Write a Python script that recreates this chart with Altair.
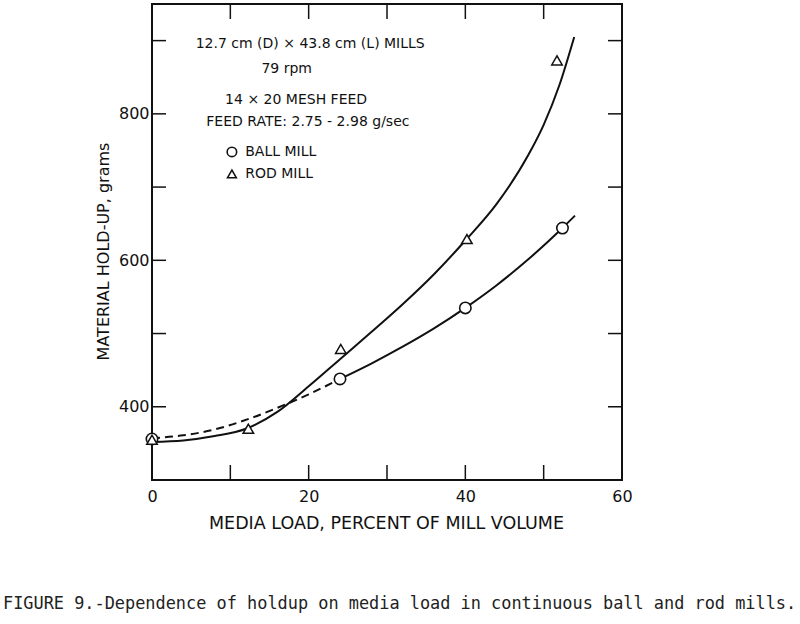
import altair as alt
import pandas as pd

# ---- data ----
ball_x = [0, 24, 40, 52.4]
ball_y = [356, 438, 535, 644]
rod_x = [0, 12.3, 24.1, 40.2, 51.7]
rod_y = [355, 370, 479, 629, 873]

# fitted curves as drawn in the figure
rod_curve_x = [0, 4, 8, 12, 16, 20, 24, 28, 32, 36, 40, 44, 48, 50, 52, 53.9]
rod_curve_y = [352, 354, 360, 370, 393, 428, 465, 502, 540, 581, 627, 677, 743, 785, 839, 905]
ball_solid_x = [24, 28, 32, 36, 40, 44, 48, 52, 54]
ball_solid_y = [438, 459, 482, 507, 535, 566, 601, 640, 661]
ball_dash_x = [0, 4, 8, 12.5, 17, 20, 24]
ball_dash_y = [357, 361, 369, 384, 403, 417, 438]

x_tick_labels = [0, 20, 40, 60]
y_tick_labels = [400, 600, 800]
x_minor = [10, 20, 30, 40, 50]
y_minor = [400, 500, 600, 700, 800, 900]

note_text = ["12.7 cm (D) × 43.8 cm (L) MILLS", "79 rpm", "14 × 20 MESH FEED",
             "FEED RATE: 2.75 - 2.98 g/sec"]
note_x = [20.2, 17.2, 18.4, 19.9]
note_y = [895, 861, 819, 789]
legend_text = ["BALL MILL", "ROD MILL"]
legend_sym_x = [10.2, 10.2]
legend_y = [748, 718]
legend_text_x = [11.9, 11.9]

caption = "FIGURE 9.-Dependence of holdup on media load in continuous ball and rod mills."

W, H = 470, 476
xs = alt.Scale(domain=[0, 60], nice=False, zero=False)
ys = alt.Scale(domain=[300, 950], nice=False, zero=False)

X = alt.X("x:Q", scale=xs,
          axis=alt.Axis(values=x_tick_labels, ticks=False, domain=False, grid=False,
                        labelFont="DejaVu Sans", labelFontSize=16, labelColor="#111",
                        labelPadding=8, title="MEDIA LOAD, PERCENT OF MILL VOLUME",
                        titleFont="DejaVu Sans", titleFontSize=17.5, titleFontWeight="normal",
                        titleColor="#111", titleX=234, titleY=43, titleAlign="center",
                        titleBaseline="middle", labelFlush=False))
Y = alt.Y("y:Q", scale=ys,
          axis=alt.Axis(values=y_tick_labels, ticks=False, domain=False, grid=False,
                        labelFont="DejaVu Sans", labelFontSize=16, labelColor="#111",
                        labelPadding=3, title="MATERIAL HOLD-UP, grams",
                        titleFont="DejaVu Sans", titleFontSize=16, titleFontWeight="normal",
                        titleColor="#111", titleX=-49, titleY=247, titleAlign="center",
                        titleBaseline="middle", titleAngle=270))

rod_curve = pd.DataFrame({"x": rod_curve_x, "y": rod_curve_y})
ball_solid = pd.DataFrame({"x": ball_solid_x, "y": ball_solid_y})
ball_dash = pd.DataFrame({"x": ball_dash_x, "y": ball_dash_y})
ball_pts = pd.DataFrame({"x": ball_x, "y": ball_y})
rod_pts = pd.DataFrame({"x": rod_x, "y": rod_y})

base_line = dict(color="#111", strokeWidth=2, interpolate="monotone")
l_rod = alt.Chart(rod_curve).mark_line(**base_line).encode(x=X, y=Y)
l_ball = alt.Chart(ball_solid).mark_line(**base_line).encode(x=X, y=Y)
l_dash = alt.Chart(ball_dash).mark_line(strokeDash=[8, 5], **base_line).encode(x=X, y=Y)

p_ball = alt.Chart(ball_pts).mark_point(shape="circle", filled=True, fill="white",
                                        stroke="#111", strokeWidth=1.6, size=130,
                                        opacity=1).encode(x=X, y=Y)
p_rod = alt.Chart(rod_pts).mark_point(shape="triangle-up", filled=True, fill="white",
                                      stroke="#111", strokeWidth=1.5, size=110,
                                      opacity=1).encode(x=X, y=Y)

# inward ticks on all four sides
yt = pd.DataFrame({"y": y_minor})
xt = pd.DataFrame({"x": x_minor})
t_left = alt.Chart(yt).mark_rule(color="#111", strokeWidth=1.5).encode(
    y=alt.Y("y:Q", scale=ys), x=alt.value(0), x2=alt.value(14))
t_right = alt.Chart(yt).mark_rule(color="#111", strokeWidth=1.5).encode(
    y=alt.Y("y:Q", scale=ys), x=alt.value(W - 14), x2=alt.value(W))
t_bot = alt.Chart(xt).mark_rule(color="#111", strokeWidth=1.5).encode(
    x=alt.X("x:Q", scale=xs), y=alt.value(H - 15), y2=alt.value(H))
t_top = alt.Chart(xt).mark_rule(color="#111", strokeWidth=1.5).encode(
    x=alt.X("x:Q", scale=xs), y=alt.value(0), y2=alt.value(15))

notes = pd.DataFrame({"x": note_x, "y": note_y, "t": note_text})
n_text = alt.Chart(notes).mark_text(font="DejaVu Sans", fontSize=14, color="#111",
                                    align="center", baseline="middle").encode(
    x=alt.X("x:Q", scale=xs), y=alt.Y("y:Q", scale=ys), text="t:N")

leg = pd.DataFrame({"x": legend_text_x, "y": legend_y, "t": legend_text})
leg_text = alt.Chart(leg).mark_text(font="DejaVu Sans", fontSize=14, color="#111",
                                    align="left", baseline="middle").encode(
    x=alt.X("x:Q", scale=xs), y=alt.Y("y:Q", scale=ys), text="t:N")
leg_c = alt.Chart(pd.DataFrame({"x": [legend_sym_x[0]], "y": [legend_y[0]]})).mark_point(
    shape="circle", stroke="#111", strokeWidth=1.6, size=90, opacity=1).encode(
    x=alt.X("x:Q", scale=xs), y=alt.Y("y:Q", scale=ys))
leg_t = alt.Chart(pd.DataFrame({"x": [legend_sym_x[1]], "y": [legend_y[1]]})).mark_point(
    shape="triangle-up", stroke="#111", strokeWidth=1.5, size=80, opacity=1).encode(
    x=alt.X("x:Q", scale=xs), y=alt.Y("y:Q", scale=ys))

cap = alt.Chart(pd.DataFrame({"t": [caption]})).mark_text(
    font="DejaVu Sans Mono", fontSize=16.9, color="#222", align="left",
    baseline="middle").encode(text="t:N", x=alt.value(-149), y=alt.value(600))

chart = alt.layer(
    l_dash, l_ball, l_rod, p_ball, p_rod,
    t_left, t_right, t_bot, t_top,
    n_text, leg_text, leg_c, leg_t, cap
).properties(
    width=W, height=H,
    autosize=alt.AutoSizeParams(type="none"),
    padding={"left": 152, "top": 4, "right": 178, "bottom": 144},
    background="white"
).configure_view(stroke="#111", strokeWidth=2)

chart.save("out.html", embed_options={"renderer": "svg", "actions": False})
